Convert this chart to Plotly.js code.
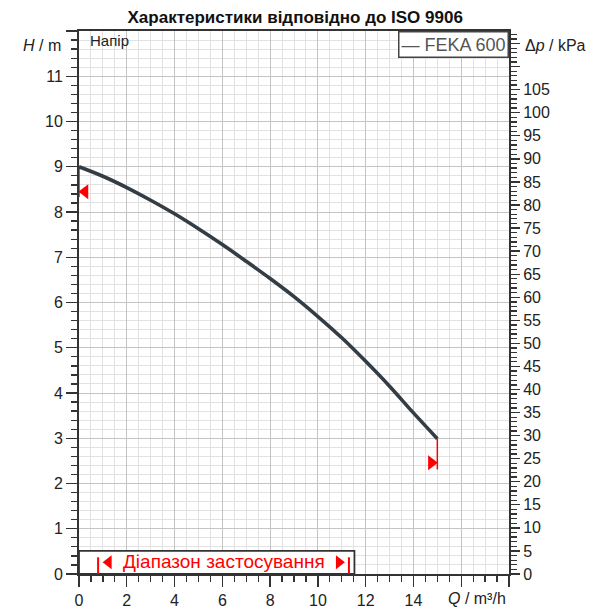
<!DOCTYPE html>
<html>
<head>
<meta charset="utf-8">
<script src="https://cdn.plot.ly/plotly-3.0.1.min.js"></script>
<style>
  html, body { margin: 0; padding: 0; background: #fff; }
  #chart { width: 600px; height: 616px; }
</style>
</head>
<body>
<div id="chart"></div>
<script>
// Крива напору (Q у m³/h, H у m)
const flowQ = [0, 1, 2, 3, 4, 5, 6, 7, 8, 9, 10, 11, 12, 13, 14, 15];
const headH = [9.0, 8.79, 8.54, 8.26, 7.96, 7.63, 7.28, 6.91, 6.53, 6.13, 5.69, 5.22, 4.70, 4.15, 3.56, 2.99];

// межі робочої точки (червоні позначки)
const limitQ = [0, 15];
const limitTopH = [9.0, 2.99];
const limitLowH = [8.33, 2.31];
const limitArrowQ = [0.25, 14.75];
const limitArrowH = [8.45, 2.46];

// діапазон застосування
const appBoxQ = [0, 11.53];
const appBoxH = 0.51;
const appRangeQ = [0.8, 11.3];
const appArrowQ = [1.24, 10.88];

const xTickVals = [0, 2, 4, 6, 8, 10, 12, 14, 16, 18];
const xTickText = ['0', '2', '4', '6', '8', '10', '12', '14', '', ''];
const yTickVals = [0, 1, 2, 3, 4, 5, 6, 7, 8, 9, 10, 11, 12];
const yTickText = ['0', '1', '2', '3', '4', '5', '6', '7', '8', '9', '10', '11', ''];
const kpaTickVals = [0, 5, 10, 15, 20, 25, 30, 35, 40, 45, 50, 55, 60, 65, 70, 75, 80, 85, 90, 95, 100, 105, 110, 115];
const kpaTickText = kpaTickVals.map(v => v <= 105 ? String(v) : '');

const kpaPerM = 9.81;
const FONT = 'Arial, "Liberation Sans", sans-serif';
const RED = '#ff0000';

const traces = [];

// червоні вертикальні лінії на межах
for (let i = 0; i < limitQ.length; i++) {
    traces.push({
        x: [limitQ[i], limitQ[i]], y: [limitTopH[i], limitLowH[i]],
        mode: 'lines', line: { color: RED, width: 1.5 },
        hoverinfo: 'skip', showlegend: false, cliponaxis: false
    });
}
traces.push({
    x: [limitArrowQ[0]], y: [limitArrowH[0]], mode: 'markers',
    marker: { symbol: 'triangle-left', size: 13, color: RED },
    showlegend: false, hoverinfo: 'skip'
});
traces.push({
    x: [limitArrowQ[1]], y: [limitArrowH[1]], mode: 'markers',
    marker: { symbol: 'triangle-right', size: 13, color: RED },
    showlegend: false, hoverinfo: 'skip'
});

// основна крива
traces.push({
    x: flowQ, y: headH, mode: 'lines',
    line: { color: '#343c44', width: 3.6, shape: 'spline', smoothing: 1 },
    name: 'FEKA 600', showlegend: false
});

// діапазон застосування: риски та стрілки
for (const q of appRangeQ) {
    traces.push({
        x: [q, q], y: [0, 0.37], mode: 'lines', line: { color: RED, width: 2 },
        showlegend: false, hoverinfo: 'skip', cliponaxis: false
    });
}
traces.push({
    x: [appArrowQ[0]], y: [0.26], mode: 'markers',
    marker: { symbol: 'triangle-left', size: 12, color: RED },
    showlegend: false, hoverinfo: 'skip'
});
traces.push({
    x: [appArrowQ[1]], y: [0.26], mode: 'markers',
    marker: { symbol: 'triangle-right', size: 12, color: RED },
    showlegend: false, hoverinfo: 'skip'
});

// невидима крива для правої осі
traces.push({
    x: [0], y: [0], yaxis: 'y2', mode: 'markers', marker: { opacity: 0 },
    showlegend: false, hoverinfo: 'skip'
});

const layout = {
    width: 600, height: 616,
    margin: { l: 79, r: 91, t: 31, b: 42 },
    paper_bgcolor: '#fff', plot_bgcolor: '#fff',
    font: { family: FONT, size: 16, color: '#222' },
    showlegend: false,
    title: {
        text: '<b>Характеристики відповідно до ISO 9906</b>',
        font: { family: FONT, size: 17, color: '#111' },
        x: 0.492, xanchor: 'center', y: 0.972, yanchor: 'middle'
    },
    xaxis: {
        range: [0, 18], tickvals: xTickVals, ticktext: xTickText,
        ticks: 'outside', ticklen: 11, tickwidth: 1.3, tickcolor: '#333',
        showline: true, linecolor: '#333', linewidth: 2, mirror: true,
        showgrid: true, gridcolor: '#c4c4c4', gridwidth: 1,
        zeroline: false,
        minor: { dtick: 0.5, ticks: 'outside', ticklen: 6, tickcolor: '#333', showgrid: true, gridcolor: '#e2e2e2', gridwidth: 1 },
        tickfont: { size: 16, color: '#222' }
    },
    yaxis: {
        range: [0, 12], tickvals: yTickVals, ticktext: yTickText,
        ticks: 'outside', ticklen: 11, tickwidth: 1.3, tickcolor: '#333',
        showline: true, linecolor: '#333', linewidth: 2, mirror: true,
        showgrid: true, gridcolor: '#c4c4c4', gridwidth: 1,
        zeroline: false,
        minor: { dtick: 0.2, ticks: 'outside', ticklen: 6, tickcolor: '#333', showgrid: true, gridcolor: '#e2e2e2', gridwidth: 1 },
        tickfont: { size: 16, color: '#222' }
    },
    yaxis2: {
        overlaying: 'y', side: 'right',
        range: [0, 12 * kpaPerM], tickvals: kpaTickVals, ticktext: kpaTickText,
        ticks: 'outside', ticklen: 9, tickwidth: 1.3, tickcolor: '#333',
        showline: true, linecolor: '#333', linewidth: 2,
        showgrid: false, zeroline: false,
        minor: { dtick: 1, ticks: 'outside', ticklen: 6, tickcolor: '#333', showgrid: false },
        tickfont: { size: 16, color: '#222' }
    },
    shapes: [
        {
            type: 'rect', xref: 'x', yref: 'y',
            x0: appBoxQ[0], x1: appBoxQ[1], y0: 0, y1: appBoxH,
            line: { color: '#333', width: 1.8 }, fillcolor: '#fff', layer: 'between'
        }
    ],
    annotations: [
        { xref: 'paper', yref: 'paper', x: -0.037, y: 0.9725, xanchor: 'right', yanchor: 'middle',
          text: '<i>H</i> / m', showarrow: false, font: { size: 16, color: '#222' } },
        { xref: 'paper', yref: 'paper', x: 1.033, y: 0.9725, xanchor: 'left', yanchor: 'middle',
          text: 'Δ<i>p</i> / kPa', showarrow: false, font: { size: 16, color: '#222' } },
        { xref: 'paper', yref: 'paper', x: 0.998, y: -0.045, xanchor: 'right', yanchor: 'middle',
          text: '<i>Q</i> / m³/h', showarrow: false, font: { size: 16, color: '#222' } },
        { xref: 'paper', yref: 'paper', x: 0.021, y: 0.9816, xanchor: 'left', yanchor: 'middle',
          text: 'Напір', showarrow: false, font: { size: 15, color: '#222' } },
        { xref: 'paper', yref: 'paper', x: 1, y: 1, xanchor: 'right', yanchor: 'top',
          text: '— FEKA 600', showarrow: false, font: { size: 18, color: '#555' },
          bgcolor: '#fff', bordercolor: '#444', borderwidth: 1.5, borderpad: 2 },
        { xref: 'x', yref: 'y', x: (appRangeQ[0] + appRangeQ[1]) / 2, y: 0.27, xanchor: 'center', yanchor: 'middle',
          text: 'Діапазон застосування', showarrow: false, font: { size: 19, color: RED } }
    ]
};

Plotly.newPlot('chart', traces, layout, { displayModeBar: false, staticPlot: true });
</script>
</body>
</html>
